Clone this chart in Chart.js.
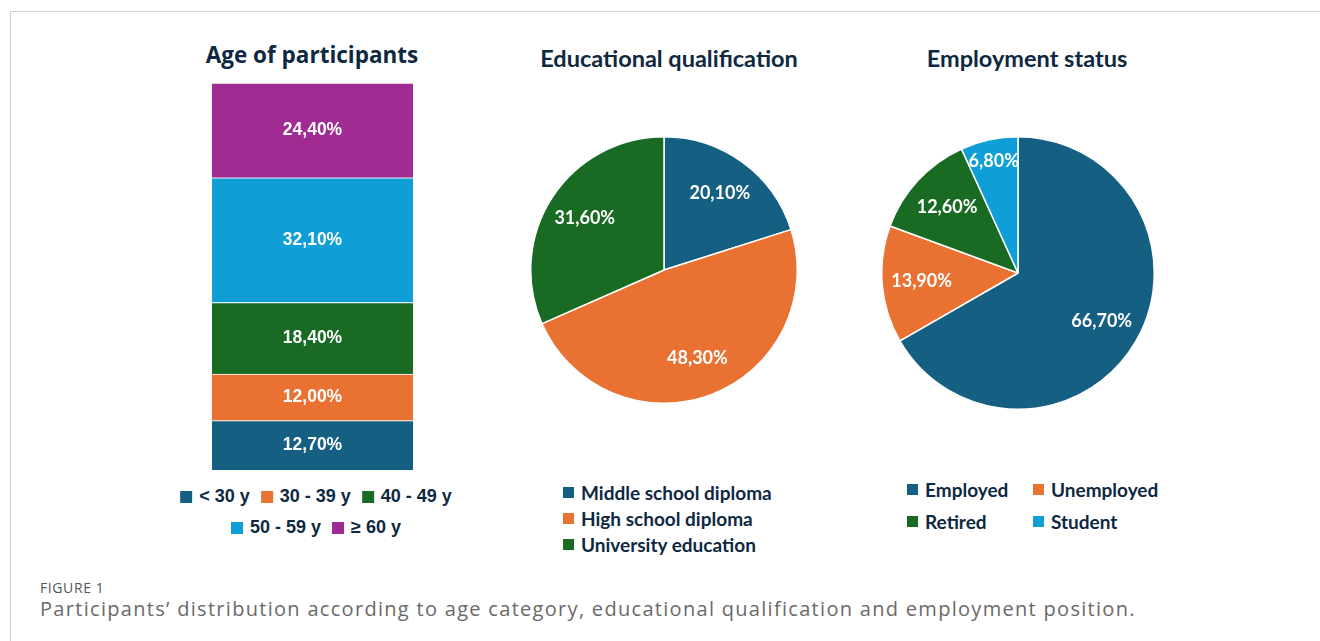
<!DOCTYPE html>
<html lang="en">
<head>
    <meta charset="UTF-8">
    <title>Figure 1</title>
    <script src="https://cdn.jsdelivr.net/npm/chart.js"></script>
    <style>
        body {
            margin: 0;
            width: 1320px;
            height: 641px;
            background: #fff;
            position: relative;
            overflow: hidden;
        }
        .frame {
            position: absolute;
            left: 10px;
            top: 11px;
            width: 1320px;
            height: 640px;
            border-top: 1px solid #cfcfcf;
            border-left: 1px solid #cfcfcf;
        }
        canvas { position: absolute; }
        .title {
            position: absolute;
            color: #0E2841;
            font-weight: bold;
            white-space: nowrap;
            transform: translateX(-50%);
        }
        .age-title { font-family: "Open Sans", sans-serif; font-size: 22.5px; left: 312px; top: 39px; }
        .pie-title { font-family: Lato, sans-serif; font-size: 23.5px; top: 44px; }
        .legend {
            position: absolute;
            color: #0E2841;
            font-weight: bold;
            white-space: nowrap;
        }
        .legend .item { position: absolute; display: flex; align-items: center; }
        .legend .box { display: inline-block; width: 11px; height: 11px; margin-right: 7px; }
        #ageLegend { font-family: "Liberation Sans", Arial, sans-serif; font-size: 18px; }
        #ageLegend .box { width: 12px; height: 12px; }
        #eduLegend, #empLegend { font-family: Lato, sans-serif; font-size: 19px; }
        .caption-label {
            position: absolute; left: 40px; top: 578px;
            font-family: "Open Sans", sans-serif; font-size: 14px; color: #555;
            letter-spacing: 0.6px;
        }
        .caption {
            position: absolute; left: 40px; top: 595px;
            font-family: "Open Sans", sans-serif; font-size: 20px; color: #6a6a6a;
            letter-spacing: 1.3px;
            white-space: nowrap;
        }
    </style>
</head>
<body>
    <div class="frame"></div>

    <div class="title age-title">Age of participants</div>
    <div class="title pie-title" style="left: 669px;">Educational qualification</div>
    <div class="title pie-title" style="left: 1027px;">Employment status</div>

    <canvas id="ageChart" width="201" height="387" style="left: 212px; top: 83px;"></canvas>
    <canvas id="eduChart" width="268" height="268" style="left: 530px; top: 136px;"></canvas>
    <canvas id="empChart" width="274" height="274" style="left: 881px; top: 136px;"></canvas>

    <div class="legend" id="ageLegend"></div>
    <div class="legend" id="eduLegend"></div>
    <div class="legend" id="empLegend"></div>

    <div class="caption-label">FIGURE 1</div>
    <div class="caption">Participants’ distribution according to age category, educational qualification and employment position.</div>

    <script>
        // Age groups (stacked from the bottom up)
        const ageLabels = ['< 30 y', '30 - 39 y', '40 - 49 y', '50 - 59 y', '≥ 60 y'];
        const ageValues = [12.7, 12.0, 18.4, 32.1, 24.4];
        const ageColors = ['#156082', '#E97132', '#196B24', '#0F9ED5', '#A02B93'];

        // Educational qualification
        const eduLabels = ['Middle school diploma', 'High school diploma', 'University education'];
        const eduValues = [20.1, 48.3, 31.6];
        const eduColors = ['#156082', '#E97132', '#196B24'];

        // Employment status
        const empLabels = ['Employed', 'Unemployed', 'Retired', 'Student'];
        const empValues = [66.7, 13.9, 12.6, 6.8];
        const empColors = ['#156082', '#E97132', '#196B24', '#0F9ED5'];

        const fmt = v => v.toFixed(2).replace('.', ',') + '%';

        // Draws the percentage inside each bar segment / slice
        const valueLabels = {
            id: 'valueLabels',
            afterDatasetsDraw(chart, args, opts) {
                const ctx = chart.ctx;
                ctx.save();
                ctx.fillStyle = '#fff';
                ctx.font = opts.font;
                ctx.textAlign = 'center';
                ctx.textBaseline = 'middle';
                chart.data.datasets.forEach((ds, di) => {
                    chart.getDatasetMeta(di).data.forEach((el, i) => {
                        const v = ds.data[i];
                        let x, y;
                        if (chart.config.type === 'bar') {
                            x = el.x;
                            y = (el.y + el.base) / 2;
                        } else {
                            const p = el.getProps(['x', 'y', 'startAngle', 'endAngle', 'outerRadius'], true);
                            const mid = (p.startAngle + p.endAngle) / 2;
                            const d = p.outerRadius * (v < 10 ? 0.84 : 0.71);
                            x = p.x + Math.cos(mid) * d;
                            y = p.y + Math.sin(mid) * d;
                        }
                        ctx.fillText(fmt(v), x, y);
                    });
                });
                ctx.restore();
            }
        };

        const common = {
            responsive: false,
            animation: false,
            devicePixelRatio: 1,
            events: [],
            layout: { padding: 0 },
        };

        // Stacked single bar
        new Chart(document.getElementById('ageChart'), {
            type: 'bar',
            data: {
                labels: ['Age'],
                datasets: ageLabels.map((l, i) => ({
                    label: l,
                    data: [ageValues[i]],
                    backgroundColor: ageColors[i],
                    borderColor: '#fff',
                    borderWidth: { top: 1, right: 0, bottom: 0, left: 0 },
                    borderSkipped: false,
                    barPercentage: 1,
                    categoryPercentage: 1,
                }))
            },
            options: {
                ...common,
                scales: {
                    x: { stacked: true, display: false },
                    y: { stacked: true, display: false, min: 0, max: ageValues.reduce((a, b) => a + b, 0) }
                },
                plugins: {
                    legend: { display: false },
                    tooltip: { enabled: false },
                    valueLabels: { font: 'bold 17.5px "Liberation Sans", Arial, sans-serif' }
                }
            },
            plugins: [valueLabels]
        });

        const pieConfig = (labels, values, colors) => ({
            type: 'pie',
            data: {
                labels: labels,
                datasets: [{
                    data: values,
                    backgroundColor: colors,
                    borderColor: '#fff',
                    borderWidth: 1.5,
                }]
            },
            options: {
                ...common,
                plugins: {
                    legend: { display: false },
                    tooltip: { enabled: false },
                    valueLabels: { font: 'bold 18px Lato, sans-serif' }
                }
            },
            plugins: [valueLabels]
        });

        new Chart(document.getElementById('eduChart'), pieConfig(eduLabels, eduValues, eduColors));
        new Chart(document.getElementById('empChart'), pieConfig(empLabels, empValues, empColors));

        // Legends
        const addItem = (legend, label, color, left, top) => {
            const item = document.createElement('div');
            item.className = 'item';
            item.style.left = left + 'px';
            item.style.top = top + 'px';
            item.innerHTML = `<span class="box" style="background:${color}"></span>${label}`;
            legend.appendChild(item);
            return item;
        };

        // age legend: centred rows of 3 and 2
        const ageLegend = document.getElementById('ageLegend');
        const ageRows = [[0, 1, 2], [3, 4]];
        ageRows.forEach((row, r) => {
            const wrap = document.createElement('div');
            wrap.className = 'item';
            wrap.style.left = '316px';
            wrap.style.top = (486 + r * 31) + 'px';
            wrap.style.transform = 'translateX(-50%)';
            wrap.style.gap = '11px';
            row.forEach(i => {
                const s = document.createElement('span');
                s.style.display = 'flex';
                s.style.alignItems = 'center';
                s.innerHTML = `<span class="box" style="background:${ageColors[i]}"></span>${ageLabels[i]}`;
                wrap.appendChild(s);
            });
            ageLegend.appendChild(wrap);
        });

        const eduLegend = document.getElementById('eduLegend');
        eduLabels.forEach((l, i) => addItem(eduLegend, l, eduColors[i], 563, 481 + i * 26));

        const empLegend = document.getElementById('empLegend');
        empLabels.forEach((l, i) => addItem(empLegend, l, empColors[i], i % 2 ? 1033 : 907, 478 + Math.floor(i / 2) * 32));
    </script>
</body>
</html>
